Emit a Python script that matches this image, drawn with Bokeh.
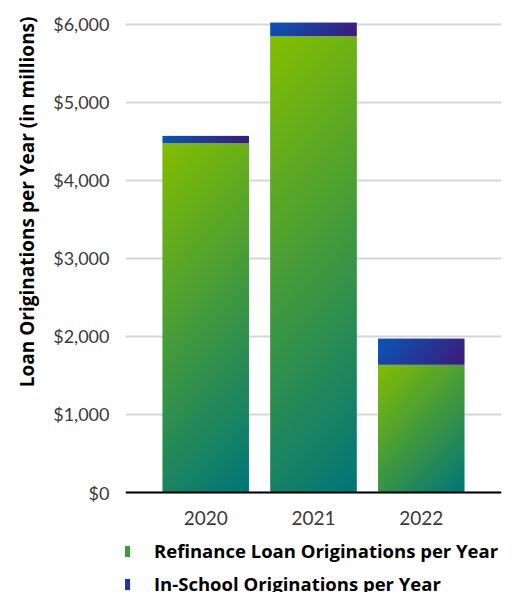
import numpy as np
from bokeh.plotting import figure
from bokeh.models import (ColumnDataSource, FactorRange, Range1d, FixedTicker,
                          NumeralTickFormatter, Legend, LegendItem, Title)
from bokeh.embed import file_html
from bokeh.resources import INLINE

years = ["2020", "2021", "2022"]
refinance = [4480, 5850, 1640]
in_school = [90, 170, 330]
y_ticks = [0, 1000, 2000, 3000, 4000, 5000, 6000]
series_names = ["Refinance Loan Originations per Year", "In-School Originations per Year"]

GREEN_START, GREEN_END = (132, 190, 0), (0, 117, 122)
BLUE_START, BLUE_END = (8, 86, 184), (62, 26, 122)

W, H = 512, 592
LEFT, TOP = 118, 16
FRAME_W = 383
PLOT_H = 476          # pixels from top of frame to the zero line
Y_END = 6100
BAR_W = 0.8
X_PAD = 0.245
px_per_y = PLOT_H / Y_END
BELOW_PX = H - TOP - PLOT_H   # room under the zero line for labels + legend

p = figure(width=W, height=H, output_backend="svg", toolbar_location=None,
           x_range=FactorRange(*years, range_padding=X_PAD, range_padding_units="absolute"),
           y_range=Range1d(-BELOW_PX / px_per_y, Y_END),
           min_border_left=LEFT, min_border_right=W - LEFT - FRAME_W,
           min_border_top=TOP, min_border_bottom=0)
p.outline_line_color = None
p.background_fill_color = "white"
p.border_fill_color = "white"

src = ColumnDataSource(dict(years=years, refi=refinance, school=in_school))
mid = lambda a, b: "#%02x%02x%02x" % tuple((x + y) // 2 for x, y in zip(a, b))
colors = [mid(GREEN_START, GREEN_END), mid(BLUE_START, BLUE_END)]
rs = p.vbar_stack(["refi", "school"], x="years", width=BAR_W, source=src,
                  color=colors, line_color=None)

# gradient overlays (45 deg in pixel space, top-left -> bottom-right)
px_per_x = FRAME_W / (len(years) + 2 * X_PAD)

def gradient(height, c0, c1):
    nx = max(2, int(round(BAR_W * px_per_x)))
    ny = max(2, int(round(height * px_per_y)))
    c = np.arange(nx)[None, :]
    ytop = (ny - 1 - np.arange(ny))[:, None]
    t = (c + ytop) / float(nx - 1 + ny - 1)
    img = np.empty((ny, nx), dtype=np.uint32)
    v = img.view(dtype=np.uint8).reshape((ny, nx, 4))
    for k in range(3):
        v[:, :, k] = np.round(c0[k] + (c1[k] - c0[k]) * t).astype(np.uint8)
    v[:, :, 3] = 255
    return img

imgs, xs, ys, dhs = [], [], [], []
for yr, r, s in zip(years, refinance, in_school):
    imgs.append(gradient(r, GREEN_START, GREEN_END)); xs.append(yr); ys.append(0); dhs.append(r)
    imgs.append(gradient(s, BLUE_START, BLUE_END)); xs.append(yr); ys.append(r); dhs.append(s)
isrc = ColumnDataSource(dict(image=imgs, x=xs, y=ys, dw=[BAR_W] * len(xs), dh=dhs))
p.image_rgba(image="image", x="x", y="y", dw="dw", dh="dh", source=isrc,
             anchor="bottom_center")

# axes
p.yaxis.ticker = FixedTicker(ticks=y_ticks)
p.yaxis.formatter = NumeralTickFormatter(format="$0,0")
p.yaxis.axis_line_color = None
p.yaxis.major_tick_line_color = None
p.yaxis.minor_tick_line_color = None
p.yaxis.major_label_standoff = 10
p.yaxis.major_label_text_font = "Lato"
p.yaxis.major_label_text_font_size = "18px"
p.yaxis.major_label_text_color = "#3a3a3a"

p.xaxis.fixed_location = 0
p.xaxis.axis_line_color = "black"
p.xaxis.axis_line_width = 2
p.xaxis.major_tick_line_color = None
p.xaxis.minor_tick_line_color = None
p.xaxis.major_label_standoff = 12
p.xaxis.major_label_text_font = "Lato"
p.xaxis.major_label_text_font_size = "19px"
p.xaxis.major_label_text_color = "#3a3a3a"

p.xgrid.grid_line_color = None
p.ygrid.grid_line_color = "#d6d6d6"
p.ygrid.grid_line_width = 2

ytitle = Title(text="Loan Originations per Year (in millions)", align="right",
               text_font="Open Sans", text_font_size="19px", text_font_style="bold",
               text_color="black", standoff=22)
p.add_layout(ytitle, "left")

legend = Legend(items=[LegendItem(label=n, renderers=[r]) for n, r in zip(series_names, rs)],
                location=(-8, -4), orientation="vertical",
                glyph_width=14, glyph_height=14, label_standoff=23, spacing=8,
                padding=0, margin=0, border_line_color=None, background_fill_alpha=0,
                label_text_font="Open Sans", label_text_font_size="18.5px",
                label_text_font_style="bold", label_text_color="black")
p.add_layout(legend, "center")

open("out.html", "w").write(file_html(p, INLINE))
